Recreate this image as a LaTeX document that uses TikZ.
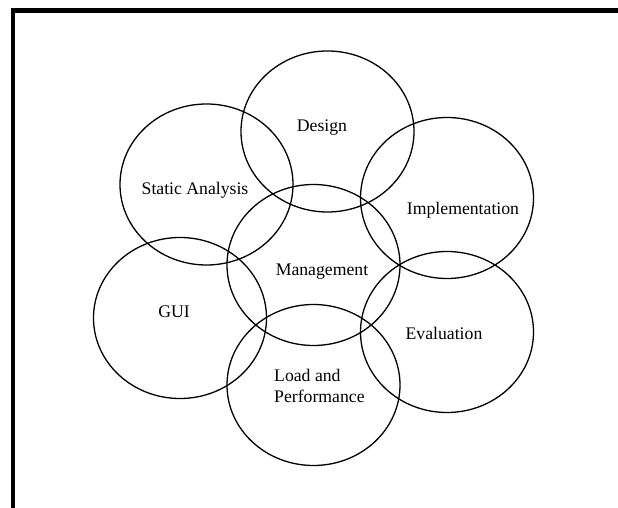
\documentclass[tikz,border=0pt]{standalone}
\usepackage{fontspec}
\setmainfont{Liberation Serif}
\usetikzlibrary{shapes.geometric}
\begin{document}
\begin{tikzpicture}[x=1pt,y=1pt,
  ring/.style={ellipse, draw, line width=1.3pt, minimum width=173pt, minimum height=161pt, inner sep=0pt},
  lbl/.style={font=\fontsize{17.7}{21}\selectfont, inner sep=0pt}]
\useasboundingbox (0,0) rectangle (618,508);
\fill[white] (0,0) rectangle (618,508);
\begin{scope}
\clip (0,0) rectangle (618,508);
\draw[line width=4.2pt] (12.75,-5) -- (12.75,497.5) -- (625,497.5);
\end{scope}
\node[ring] (design) at (327.5,376.5) {};
\node[ring] (static) at (206.5,323.5) {};
\node[ring] (impl) at (447,310) {};
\node[ring] (mgmt) at (313.5,243) {};
\node[ring] (gui) at (180,190) {};
\node[ring] (eval) at (447,176) {};
\node[ring] (load) at (313.5,123) {};
\node[lbl] (tdesign) at (322,380) {Design};
\node[lbl] (tstatic) at (195,318) {Static Analysis};
\node[lbl] (timpl) at (463,298) {Implementation};
\node[lbl] (tmgmt) at (322,236) {Management};
\node[lbl] (tgui) at (174,196) {GUI};
\node[lbl] (teval) at (444,175) {Evaluation};
\node[lbl, align=left, anchor=west] (tload) at (274,122.5) {Load and\\Performance};
\end{tikzpicture}
\end{document}
